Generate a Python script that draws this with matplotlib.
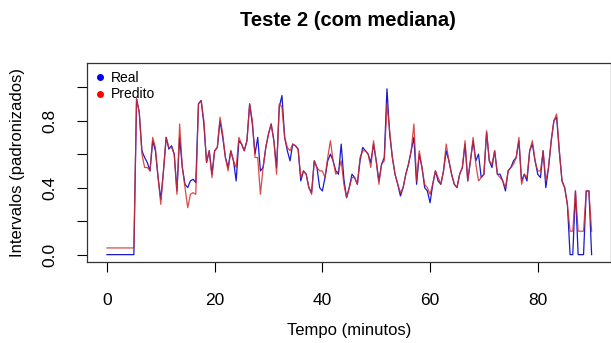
import numpy as np
import matplotlib.pyplot as plt
from matplotlib.lines import Line2D

plt.rcParams['font.family'] = ['Liberation Sans', 'DejaVu Sans']

# tempo em minutos (passo de 0.5)
tempo = np.arange(0, 90.01, 0.5)

# valores reais (padronizados)
real = [
    0.0, 0.0, 0.0, 0.0, 0.0, 0.0, 0.0, 0.0, 0.0, 0.0,
    0.0, 0.93, 0.85, 0.62, 0.58, 0.55, 0.50, 0.68, 0.62, 0.46,
    0.33, 0.50, 0.70, 0.63, 0.65, 0.60, 0.38, 0.70, 0.52, 0.42,
    0.40, 0.44, 0.45, 0.43, 0.90, 0.92, 0.78, 0.55, 0.62, 0.48,
    0.62, 0.64, 0.80, 0.70, 0.58, 0.52, 0.62, 0.56, 0.44, 0.68,
    0.66, 0.62, 0.68, 0.90, 0.78, 0.60, 0.70, 0.50, 0.52, 0.64,
    0.72, 0.78, 0.68, 0.52, 0.88, 0.95, 0.70, 0.62, 0.56, 0.66,
    0.65, 0.63, 0.44, 0.50, 0.48, 0.40, 0.37, 0.56, 0.52, 0.40,
    0.38, 0.46, 0.56, 0.60, 0.56, 0.50, 0.48, 0.66, 0.45, 0.34,
    0.40, 0.48, 0.46, 0.42, 0.56, 0.64, 0.62, 0.60, 0.55, 0.66,
    0.56, 0.44, 0.54, 0.58, 0.99, 0.72, 0.58, 0.48, 0.42, 0.35,
    0.40, 0.48, 0.54, 0.62, 0.70, 0.42, 0.60, 0.52, 0.40, 0.38,
    0.31, 0.42, 0.50, 0.44, 0.42, 0.50, 0.62, 0.56, 0.48, 0.42,
    0.40, 0.48, 0.52, 0.66, 0.44, 0.56, 0.68, 0.56, 0.60, 0.46,
    0.48, 0.73, 0.56, 0.52, 0.62, 0.48, 0.48, 0.44, 0.38, 0.50,
    0.52, 0.56, 0.58, 0.68, 0.44, 0.48, 0.44, 0.62, 0.66, 0.56,
    0.48, 0.46, 0.62, 0.40, 0.52, 0.68, 0.80, 0.82, 0.62, 0.44,
    0.40, 0.30, 0.0, 0.0, 0.38, 0.0, 0.0, 0.0, 0.38, 0.38,
    0.0,
]

# valores preditos (com mediana)
predito = [
    0.04, 0.04, 0.04, 0.04, 0.04, 0.04, 0.04, 0.04, 0.04, 0.04,
    0.04, 0.93, 0.85, 0.60, 0.52, 0.52, 0.50, 0.70, 0.64, 0.46,
    0.30, 0.50, 0.70, 0.64, 0.64, 0.60, 0.36, 0.78, 0.52, 0.40,
    0.28, 0.36, 0.37, 0.36, 0.90, 0.92, 0.80, 0.55, 0.62, 0.46,
    0.62, 0.64, 0.82, 0.72, 0.58, 0.50, 0.62, 0.56, 0.52, 0.70,
    0.66, 0.62, 0.68, 0.90, 0.80, 0.58, 0.58, 0.36, 0.52, 0.64,
    0.72, 0.78, 0.68, 0.48, 0.90, 0.88, 0.70, 0.64, 0.62, 0.66,
    0.65, 0.63, 0.46, 0.50, 0.48, 0.40, 0.36, 0.56, 0.52, 0.50,
    0.50, 0.46, 0.58, 0.68, 0.56, 0.48, 0.50, 0.56, 0.42, 0.34,
    0.40, 0.46, 0.46, 0.42, 0.58, 0.62, 0.62, 0.60, 0.52, 0.68,
    0.56, 0.42, 0.54, 0.56, 0.90, 0.74, 0.58, 0.48, 0.42, 0.37,
    0.40, 0.48, 0.54, 0.62, 0.78, 0.44, 0.62, 0.52, 0.42, 0.40,
    0.36, 0.42, 0.50, 0.46, 0.42, 0.50, 0.66, 0.56, 0.48, 0.42,
    0.40, 0.48, 0.52, 0.68, 0.44, 0.56, 0.70, 0.54, 0.44, 0.46,
    0.48, 0.74, 0.56, 0.54, 0.62, 0.48, 0.46, 0.44, 0.40, 0.50,
    0.52, 0.54, 0.58, 0.70, 0.42, 0.48, 0.46, 0.62, 0.68, 0.56,
    0.50, 0.50, 0.62, 0.44, 0.52, 0.68, 0.80, 0.84, 0.62, 0.44,
    0.40, 0.30, 0.14, 0.14, 0.38, 0.14, 0.14, 0.14, 0.38, 0.38,
    0.14,
]

fig = plt.figure(figsize=(6.11, 3.43), dpi=100)
ax = fig.add_axes([87 / 611, 1 - 262 / 343, 524 / 611, 199 / 343])

ax.plot(tempo, real, color='#1a1acc', lw=0.9)
ax.plot(tempo, predito, color='#d42a2a', lw=0.9, alpha=0.85)

ax.set_xlim(-3.7, 93.6)
ax.set_ylim(-0.044, 1.144)
ax.set_xticks([0, 20, 40, 60, 80])
ax.set_yticks([0.0, 0.2, 0.4, 0.6, 0.8, 1.0])
ax.set_yticklabels(['0.0', '', '0.4', '', '0.8', ''])
for lab in ax.get_yticklabels():
    lab.set_rotation(90)
    lab.set_va('center')
ax.tick_params(direction='out', length=7, width=0.8, labelsize=12.5)
ax.tick_params(axis='x', pad=15)
ax.tick_params(axis='y', pad=14)
for s in ax.spines.values():
    s.set_linewidth(0.9)
    s.set_color('#333333')

ax.set_xlabel('Tempo (minutos)', fontsize=12, labelpad=11)
ax.set_ylabel('Intervalos (padronizados)', fontsize=12, labelpad=13)
fig.suptitle('Teste 2 (com mediana)', fontsize=14.5, fontweight='bold', x=348 / 611, y=1 - 20 / 343, va='center')

handles = [Line2D([], [], ls='none', marker='o', ms=4, color='blue'),
           Line2D([], [], ls='none', marker='o', ms=4, color='red')]
ax.legend(handles, ['Real', 'Predito'], loc='upper left', frameon=False, fontsize=10,
          handlelength=0.6, handletextpad=0.5, labelspacing=0.15, borderaxespad=0.3,
          borderpad=0.3)

fig.savefig('out.png', dpi=100)
